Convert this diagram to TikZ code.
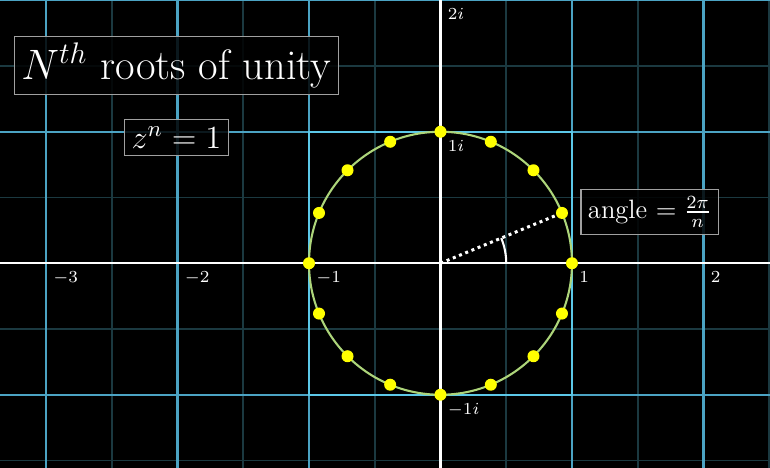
\documentclass[tikz,border=0pt]{standalone}
\usepackage{fix-cm}
\usepackage{amsmath}
\definecolor{gridblue}{HTML}{4BA3C3}
\definecolor{boxblue}{HTML}{5CC8E8}
\definecolor{minorteal}{HTML}{1B3940}
\definecolor{ringgreen}{HTML}{ADD57A}
\definecolor{rootyellow}{HTML}{FFFF00}
\definecolor{framegray}{HTML}{A0A0A0}
\tikzset{
  major/.style={gridblue, line width=0.9pt},
  minor/.style={minorteal, line width=0.7pt},
  axis/.style={white, line width=0.9pt},
  root/.style={circle, fill=rootyellow, inner sep=0pt, minimum size=5.2pt},
  ticklabel/.style={text=white, font=\fontsize{7.3}{8}\selectfont, anchor=north west, inner sep=0pt, xshift=3pt, yshift=-3.5pt},
  eqbox/.style={draw=framegray, line width=0.5pt, fill=black, fill opacity=0.85, text opacity=1, text=white, inner sep=3pt},
}

\begin{document}
\begin{tikzpicture}[x=2cm,y=2cm]
      \fill[black] (-3.350,-1.557) rectangle (2.506,2.002);
      \useasboundingbox (-3.350,-1.557) rectangle (2.506,2.002);
      % grid
      \foreach \x in {-3.5,-2.5,...,2.5}
        \draw[minor] (\x,-1.6) -- (\x,2.1);
      \foreach \y in {-1.5,-0.5,...,1.5}
        \draw[minor] (-3.4,\y) -- (2.6,\y);
      \foreach \x in {-3,-2,-1,1,2}
        \draw[major] (\x,-1.6) -- (\x,2.1);
      \foreach \y in {-1,1,2}
        \draw[major] (-3.4,\y) -- (2.6,\y);
      \draw[major, boxblue] (-1,-1) rectangle (1,1);
      \draw[axis] (-3.4,0) -- (2.6,0);
      \draw[axis] (0,-1.6) -- (0,2.1);
      \coordinate (O) at (0,0);
      % labels
      \foreach \x in {-3,-2,-1,1,2}
        \node[ticklabel] (lx\x) at (\x,0) {$\x$};
      \node[ticklabel] (ly2) at (0,2) {$2i$};
      \node[ticklabel] (ly1) at (0,1) {$1i$};
      \node[ticklabel] (lym1) at (0,-1) {$-1i$};
      % roots
      \draw[ringgreen, line width=0.9pt] (O) circle (1);
      \foreach \k in {0,...,15}
        \node[root] (r\k) at (\k*22.5:1) {};
      \draw[white, line width=1.3pt, dash pattern=on 1.3pt off 1.6pt] (O) -- (r1);
      \draw[white, line width=0.9pt] (0.5,0) arc[start angle=0, end angle=22.5, radius=0.5];
      \node[eqbox, font=\fontsize{18.4}{22}\selectfont] (title) at (-2.008,1.504) {$N^{th}$ roots of unity};
      \node[eqbox, font=\fontsize{14}{16}\selectfont] (eqn) at (-2.008,0.957) {$z^n = 1$};
      \node[eqbox, font=\fontsize{11.5}{14}\selectfont] (anglebox) at (1.591,0.390) {angle $= \frac{2\pi}{n}$};
    \end{tikzpicture}
\end{document}
